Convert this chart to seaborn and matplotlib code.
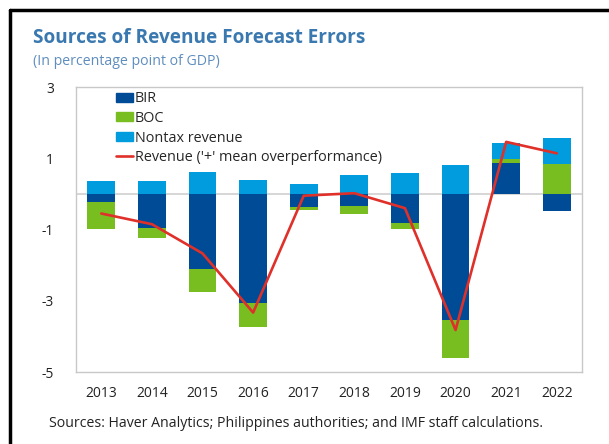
import matplotlib
matplotlib.use('Agg')
import matplotlib.pyplot as plt
from matplotlib.patches import Patch
from matplotlib.lines import Line2D
import seaborn as sns
import numpy as np
import pandas as pd

years = ['2013', '2014', '2015', '2016', '2017', '2018', '2019', '2020', '2021', '2022']
bir = [-0.22, -0.95, -2.11, -3.07, -0.38, -0.33, -0.82, -3.54, 0.86, -0.48]
boc = [-0.77, -0.30, -0.63, -0.67, -0.06, -0.23, -0.17, -1.06, 0.11, 0.83]
nontax = [0.37, 0.37, 0.62, 0.39, 0.29, 0.52, 0.58, 0.80, 0.47, 0.73]
revenue = [-0.55, -0.85, -1.67, -3.33, -0.05, 0.02, -0.40, -3.82, 1.46, 1.14]

c_bir = '#004B96'
c_boc = '#78BE21'
c_nontax = '#009CDE'
c_rev = '#E0302A'

sns.set_style('white')
plt.rcParams['font.family'] = ['Open Sans', 'DejaVu Sans']
plt.rcParams['axes.unicode_minus'] = False

df = pd.DataFrame({'year': years, 'BIR': bir, 'BOC': boc, 'Nontax': nontax, 'Revenue': revenue})
comps = ['BIR', 'BOC', 'Nontax']
colors = [c_bir, c_boc, c_nontax]

# split into positive / negative stacks, cumulative from zero outward
pos = df[comps].clip(lower=0).cumsum(axis=1)
neg = df[comps].clip(upper=0).cumsum(axis=1)

fig = plt.figure(figsize=(6.09, 4.44), dpi=100)
ax = fig.add_axes([0.1248, 0.162, 0.831, 0.642])

# draw outermost first, then overlay inner segments
for stack in (pos, neg):
    for comp, col in reversed(list(zip(comps, colors))):
        sns.barplot(x=df['year'], y=stack[comp], color=col, width=0.55,
                    saturation=1, ax=ax, linewidth=0)

sns.lineplot(x=np.arange(len(years)), y=df['Revenue'], color=c_rev, lw=1.9, ax=ax, sort=False)

ax.axhline(0, color='#CFCFCF', lw=1.2, zorder=0.5)
ax.set_xlim(-0.5, 9.5)
ax.set_ylim(-5, 3)
ax.set_yticks([3, 1, -1, -3, -5])
ax.set_xlabel('')
ax.set_ylabel('')
ax.tick_params(axis='both', length=0, labelsize=10, colors='#222222')
ax.tick_params(axis='x', pad=10)
ax.tick_params(axis='y', pad=16)
for s in ax.spines.values():
    s.set_color('#C8C8C8')
    s.set_linewidth(1.0)

handles = [Patch(color=c_bir, label='BIR'),
           Patch(color=c_boc, label='BOC'),
           Patch(color=c_nontax, label='Nontax revenue'),
           Line2D([0], [0], color=c_rev, lw=1.9, label="Revenue ('+' mean overperformance)")]
ax.legend(handles=handles, loc='upper left', bbox_to_anchor=(0.068, 1.005), frameon=False,
          fontsize=10.4, handlelength=1.15, handleheight=0.6, handletextpad=0.15,
          labelspacing=0.32, borderaxespad=0)

fig.text(0.054, 0.914, 'Sources of Revenue Forecast Errors', fontsize=13.7, fontweight='bold',
         color='#3A78B0', va='center')
fig.text(0.054, 0.861, '(In percentage point of GDP)', fontsize=10.2, color='#5E8DBF', va='center')
fig.text(0.080, 0.047, 'Sources: Haver Analytics; Philippines authorities; and IMF staff calculations.',
         fontsize=10.2, color='#222222', va='center')

# frame lines of the original box (top and left)
fig.add_artist(Line2D([10 / 609, 1], [1 - 10 / 444, 1 - 10 / 444], color='black', lw=2.5,
                      transform=fig.transFigure))
fig.add_artist(Line2D([10 / 609, 10 / 609], [0, 1 - 10 / 444], color='black', lw=2.5,
                      transform=fig.transFigure))

fig.savefig('out.png', dpi=100)
